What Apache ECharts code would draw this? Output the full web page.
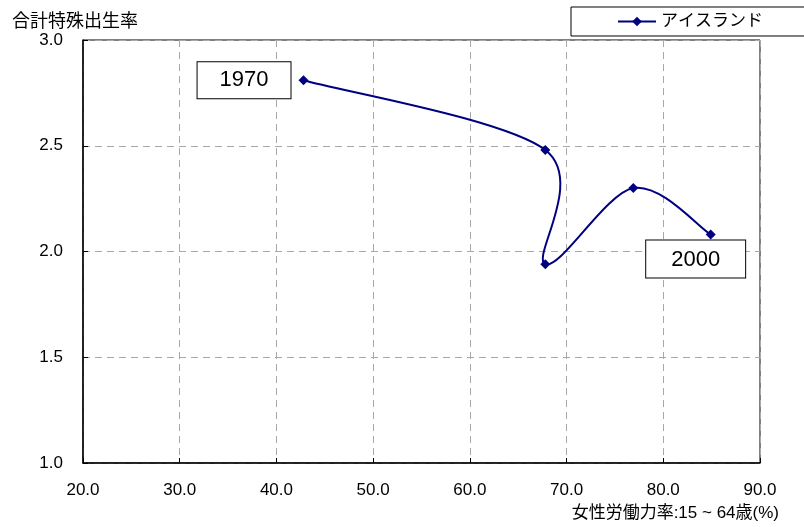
<!DOCTYPE html>
<html><head><meta charset="utf-8">
<script src="https://cdn.jsdelivr.net/npm/echarts@6/dist/echarts.min.js"></script>
<style>html,body{margin:0;padding:0;background:#fff}#c{width:804px;height:527px}</style>
</head><body><div id="c"></div>
<script>
const seriesName = 'アイスランド';
const years = ['1970', '', '', '', '2000'];
const femaleLabor = [42.8, 67.8, 67.8, 76.9, 84.9];
const fertility = [2.81, 2.48, 1.94, 2.30, 2.08];
const xTicks = [20, 30, 40, 50, 60, 70, 80, 90];
const yTicks = [1.0, 1.5, 2.0, 2.5, 3.0];
const yTitle = '合計特殊出生率';
const xTitle = '女性労働力率:15 ~ 64歳(%)';

const FONT = '"Liberation Sans", Arial, "Noto Sans CJK JP", sans-serif';
const LINE = '#000080';
const TENSION = 1 / 6;
const chart = echarts.init(document.getElementById('c'), null, {renderer: 'canvas'});

const pts = femaleLabor.map((x, i) => [x, fertility[i]]);

const boxBase = {
  show: true, color: '#000', fontSize: 22, fontFamily: FONT,
  backgroundColor: '#fff', borderColor: '#000', borderWidth: 1,
  formatter: p => years[p.dataIndex]
};

const data = pts.map((v, i) => {
  const d = {value: v};
  if (i === 0) d.label = Object.assign({}, boxBase, {position: 'left', distance: 8, padding: [8, 22, 6, 22]});
  if (i === pts.length - 1) d.label = Object.assign({}, boxBase, {position: 'bottom', distance: 1, offset: [-15, 0], padding: [8, 25, 7, 25]});
  return d;
});

// Smoothed (Excel-like cardinal spline) path, each segment drawn through the axes' coord system
function renderSegment(params, api) {
  const i = params.dataIndex;
  const n = pts.length;
  if (i >= n - 1) return null;
  const c = k => api.coord(pts[Math.max(0, Math.min(n - 1, k))]);
  const p0 = c(i - 1), p1 = c(i), p2 = c(i + 1), p3 = c(i + 2);
  const cp1 = [p1[0] + (p2[0] - p0[0]) * TENSION, p1[1] + (p2[1] - p0[1]) * TENSION];
  const cp2 = [p2[0] - (p3[0] - p1[0]) * TENSION, p2[1] - (p3[1] - p1[1]) * TENSION];
  return {
    type: 'bezierCurve',
    shape: {x1: p1[0], y1: p1[1], cpx1: cp1[0], cpy1: cp1[1], cpx2: cp2[0], cpy2: cp2[1], x2: p2[0], y2: p2[1]},
    style: {stroke: LINE, lineWidth: 2, fill: null}
  };
}

chart.setOption({
  animation: false,
  backgroundColor: '#fff',
  textStyle: {fontFamily: FONT},
  title: [
    {text: yTitle, left: 7, top: 8, textStyle: {fontSize: 18, fontWeight: 'normal', color: '#000', fontFamily: FONT}},
    {text: xTitle, right: 20, top: 500, textStyle: {fontSize: 17, fontWeight: 'normal', color: '#000', fontFamily: FONT}}
  ],
  legend: {
    data: [seriesName], left: 571, top: 7,
    backgroundColor: '#fff', borderColor: '#000', borderWidth: 1,
    padding: [6, 80, 6, 46], itemWidth: 38, itemHeight: 12, itemGap: 4,
    lineStyle: {opacity: 1, color: LINE, width: 2},
    textStyle: {fontSize: 17, color: '#000', fontFamily: FONT}
  },
  grid: {left: 83, top: 40, right: 44, bottom: 64, show: true, borderColor: '#000', borderWidth: 1, backgroundColor: '#fff'},
  xAxis: {
    type: 'value', min: xTicks[0], max: xTicks[xTicks.length - 1], interval: 10,
    axisLine: {show: true, lineStyle: {color: '#000', width: 1.5}},
    axisTick: {show: true, inside: true, length: 5, lineStyle: {color: '#000'}},
    axisLabel: {fontSize: 17, color: '#000', margin: 19, formatter: v => v.toFixed(1), fontFamily: FONT},
    splitLine: {show: true, lineStyle: {color: '#a8a8a8', type: [7, 5], width: 1}}
  },
  yAxis: {
    type: 'value', min: yTicks[0], max: yTicks[yTicks.length - 1], interval: 0.5,
    axisLine: {show: true, lineStyle: {color: '#000', width: 1.5}},
    axisTick: {show: true, inside: true, length: 5, lineStyle: {color: '#000'}},
    axisLabel: {fontSize: 17, color: '#000', margin: 20, formatter: v => v.toFixed(1), fontFamily: FONT},
    splitLine: {show: true, lineStyle: {color: '#a8a8a8', type: [7, 5], width: 1}}
  },
  series: [
    {
      name: seriesName + '_curve', type: 'custom', data: pts, renderItem: renderSegment,
      silent: true, z: 2, clip: true
    },
    {
      name: seriesName, type: 'line', data: data,
      symbol: 'diamond', symbolSize: 10, z: 3,
      lineStyle: {color: LINE, width: 2, opacity: 0},
      itemStyle: {color: LINE}
    }
  ]
});
</script></body></html>
